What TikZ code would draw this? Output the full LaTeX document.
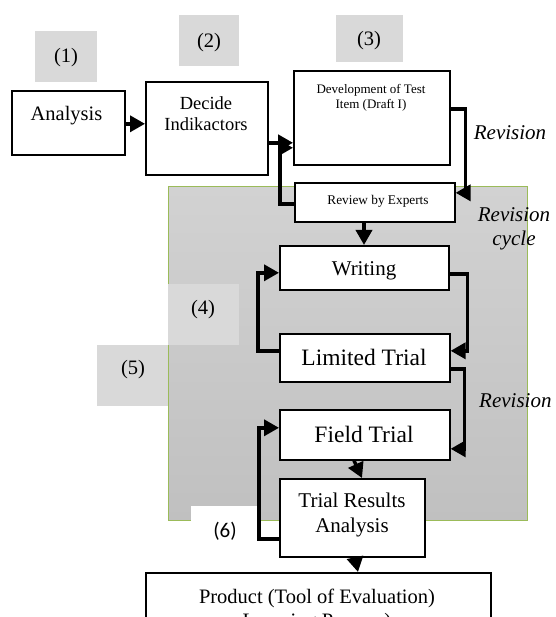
\documentclass[tikz,border=0pt]{standalone}
\usepackage{fontspec}
\setmainfont{Liberation Serif}
\newfontfamily\calib{Carlito}
\usetikzlibrary{arrows.meta,calc}
\definecolor{panelTop}{RGB}{210,210,210}
\definecolor{panelBot}{RGB}{192,192,192}
\definecolor{panelEdge}{RGB}{155,187,89}
\definecolor{labelGray}{RGB}{217,217,217}
\tikzset{
  box/.style={draw=black, line width=1.6pt, fill=white, inner sep=0pt, anchor=north west},
  conn/.style={line width=3.5pt, line join=miter, -{Triangle[length=15pt,width=16pt]}},
  lbl/.style={fill=labelGray, inner sep=0pt, anchor=north west},
  txt/.style={inner sep=0pt, anchor=base, align=center},
}
\newcommand{\fs}[2]{\fontsize{#1}{#2}\selectfont}
\begin{document}
\begin{tikzpicture}[x=1pt,y=-1pt]
\useasboundingbox (0,0) rectangle (555,617);
% gray panel
\node[draw=panelEdge, line width=1pt, top color=panelTop, bottom color=panelBot, minimum width=359pt, minimum height=334pt, inner sep=0pt, anchor=north west] (panel) at (168,186) {};
% number labels
\node[lbl, minimum width=62pt, minimum height=51pt] (l1) at (35,31) {};
\node[lbl, minimum width=60pt, minimum height=51pt] (l2) at (179,15) {};
\node[lbl, minimum width=67pt, minimum height=47pt] (l3) at (336,15) {};
\node[lbl, minimum width=71pt, minimum height=61pt] (l4) at (168,284) {};
\node[lbl, minimum width=71pt, minimum height=61pt] (l5) at (97,345) {};
\node[fill=white, inner sep=0pt, anchor=north west, minimum width=69pt, minimum height=45pt] (l6) at (191,506) {};
\node[txt] (t1) at (66,63) {\fs{20.5}{23}(1)};
\node[txt] (t2) at (209,48) {\fs{20.5}{23}(2)};
\node[txt] (t3) at (369,46) {\fs{20.5}{23}(3)};
\node[txt] (t4) at (203,314) {\fs{20.5}{23}(4)};
\node[txt] (t5) at (133,374) {\fs{20.5}{23}(5)};
\node[txt] (t6) at (225,537) {\calib\fs{21}{24}(6)};
% boxes
\node[box, minimum width=113pt, minimum height=64pt] (analysis) at (11,90) {};
\node[box, minimum width=122pt, minimum height=93pt] (decide) at (145,81) {};
\node[box, minimum width=156pt, minimum height=94pt] (dev) at (293,70) {};
\node[box, minimum width=160pt, minimum height=39pt] (review) at (294,182) {};
\node[box, minimum width=169pt, minimum height=44pt] (writing) at (279,245) {};
\node[box, minimum width=170pt, minimum height=48pt] (limited) at (279,333) {};
\node[box, minimum width=170pt, minimum height=50pt] (field) at (279,409) {};
\node[box, minimum width=145pt, minimum height=78pt] (trial) at (279,478) {};
\node[box, minimum width=345pt, minimum height=80pt] (product) at (145,572) {};
% box texts
\node[txt] (ta) at (66.5,121) {\fs{20.5}{23}Analysis};
\node[txt] (td1) at (206,110) {\fs{18.5}{21}Decide};
\node[txt] (td2) at (206,131) {\fs{18.5}{21}Indikactors};
\node[txt] (tdv1) at (371,94) {\fs{13}{15}Development of Test};
\node[txt] (tdv2) at (371,109) {\fs{13}{15}Item (Draft I)};
\node[txt] (tr) at (378,205) {\fs{13.3}{15}Review by Experts};
\node[txt] (tw) at (364,275) {\fs{21}{24}Writing};
\node[txt] (tl) at (364,365) {\fs{23.5}{26}Limited Trial};
\node[txt] (tf) at (364,442) {\fs{23.5}{26}Field Trial};
\node[txt] (tt1) at (352,507) {\fs{21}{24}Trial Results};
\node[txt] (tt2) at (352,532) {\fs{21}{24}Analysis};
\node[txt] (tp1) at (317,603) {\fs{20.5}{23}Product (Tool of Evaluation)};
\node[txt] (tp2) at (317,627) {\fs{20.5}{23}Learning Process)};
% revision labels
\node[txt] (rv1) at (510,140) {\fs{21}{24}\itshape Revision};
\node[txt] (rc1) at (514,222) {\fs{21}{24}\itshape Revision};
\node[txt] (rc2) at (514,245) {\fs{21}{24}\itshape cycle};
\node[txt, anchor=base west] (rv2) at (479,407) {\fs{21}{24}\itshape Revision};
% connectors
\draw[conn] ([yshift=-1pt]analysis.east) -- ([yshift=-1pt]analysis.east -| decide.west);
\draw[conn] ([yshift=-14.5pt]decide.east) -- ([yshift=-14.5pt]decide.east -| dev.west);
\draw[conn] ([yshift=-1.5pt]review.west) -| ([xshift=-13pt,yshift=-30pt]dev.west) -- ([yshift=-30pt]dev.west);
\draw[conn] ([yshift=9pt]dev.east) -| ([xshift=10pt,yshift=9.5pt]review.east) -- ([yshift=9.5pt]review.east);
\draw[conn] (review.south -| tw) -- (writing.north -| tw);
\draw[conn] ([yshift=-6pt]writing.east) -| ([xshift=17pt,yshift=7pt]limited.east) -- ([yshift=7pt]limited.east);
\draw[conn] ([yshift=7pt]limited.west) -| ([xshift=-21pt,yshift=-5pt]writing.west) -- ([yshift=-5pt]writing.west);
\draw[conn] ([yshift=-11pt]limited.east) -| ([xshift=14pt,yshift=-14pt]field.east) -- ([yshift=-14pt]field.east);
\draw[conn] ($(field.south west)+(75,0)$) -- ($(trial.north west)+(83,0)$);
\draw[conn] ([yshift=-21pt]trial.west) -| ([xshift=-20pt,yshift=7pt]field.west) -- ([yshift=7pt]field.west);
\draw[conn] ($(trial.south west)+(76,0)$) -- ($(product.north west)+(213,0)$);
\end{tikzpicture}
\end{document}
